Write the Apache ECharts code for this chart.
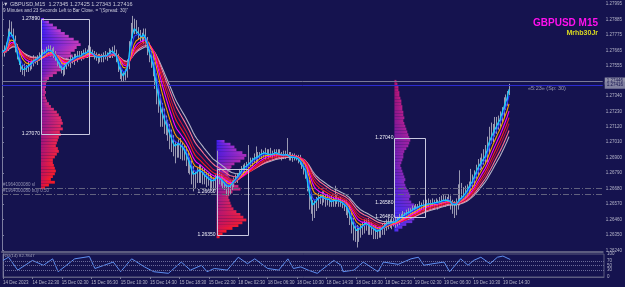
<!DOCTYPE html>
<html>
<head>
<meta charset="utf-8">
<script src="https://cdn.jsdelivr.net/npm/echarts@6/dist/echarts.min.js"></script>
<style>
html, body { margin: 0; padding: 0; background: #15134f; }
#main { width: 625px; height: 287px; }
</style>
</head>
<body>
<div id="main"></div>
<script>
// GBPUSD M15 closes, in pips above 1.26000, one per bar (14 Dec 18:30 -> 19 Dec 15:45)
const closes = [
  165, 167, 168, 176, 183, 179, 175, 169, 163, 158,
  154, 151, 154, 153, 156, 155, 158, 160, 159, 161,
  162, 163, 165, 164, 166, 168, 165, 166, 164, 161,
  158, 156, 153, 152, 155, 158, 157, 160, 159, 162,
  161, 163, 164, 162, 165, 164, 165, 167, 165, 164,
  163, 161, 160, 162, 161, 163, 162, 163, 165, 164,
  167, 165, 162, 157, 151, 149, 147, 150, 155, 165,
  177, 181, 184, 180, 178, 177, 175, 179, 174, 169,
  163, 160, 155, 147, 138, 131, 124, 120, 117, 113,
  110, 106, 103, 99, 97, 98, 101, 99, 97, 95,
  92, 88, 85, 80, 76, 78, 80, 82, 81, 79,
  77, 76, 75, 74, 73, 72, 75, 78, 76, 74,
  73, 71, 69, 68, 70, 72, 74, 75, 77, 79,
  81, 83, 82, 85, 86, 87, 88, 90, 89, 91,
  92, 93, 92, 94, 93, 92, 93, 92, 93, 94,
  93, 92, 91, 92, 93, 92, 91, 90, 91, 90,
  90, 89, 87, 85, 82, 80, 72, 63, 58, 54,
  57, 60, 62, 61, 63, 62, 60, 61, 60, 58,
  59, 60, 60, 59, 58, 58, 57, 55, 53, 49,
  44, 41, 39, 37, 39, 40, 42, 43, 44, 42,
  41, 40, 39, 38, 37, 38, 39, 40, 42, 43,
  44, 43, 44, 45, 44, 46, 47, 48, 49, 49,
  51, 50, 52, 53, 54, 53, 55, 56, 56, 57,
  56, 58, 57, 58, 57, 58, 58, 57, 59, 59,
  60, 59, 60, 61, 58, 56, 55, 57, 59, 61,
  62, 63, 65, 67, 70, 72, 74, 78, 81, 84,
  86, 88, 90, 92, 97, 103, 105, 108, 111, 113,
  116, 118, 123, 127, 131, 134.5, 141.6
];
// wick above / below the body of each bar, pips (base 36 digits)
const upWicks = [
  '2346543222', '2232322322', '3222322232', '2222332322', '2322232322',
  '2232223232', '2322222358', '9a54332332', '3333344553', '4443332322',
  '3323423332', '3334333h42', '3232322323', '3232d32383', '2323234232',
  '23232b2322', '2232232222', '3232332323', '3a42322323', '2323232323',
  '2323232323', '3232323232', '2323232323', '3232323234', '43232234ck',
  'a6543a4345', '456789a686', '4536431'
].join('');
const downWicks = [
  '2322334432', '3232232323', '2323223232', '3234322323', '2323233232',
  '3232332323', '3346553232', '3232443456', '5678a9c8a7', '8a98b78a97',
  '8979a86898', '6757565454', '5465433232', '3232323232', '2323232323',
  '3232323232', '2323456a89', '7564545453', '3434345667', '8a9b765657',
  '6576545454', '4343434343', '3434343434', '3434343434', '3434568643',
  '3434343434', '3434543434', '3434340'
].join('');

// RSI(14): bar index and value
const rsiBars = [0, 3, 8, 16, 22, 27, 30, 39, 47, 50, 60, 64, 70, 77, 82, 90, 97, 102, 108, 111,
  115, 122, 128, 133, 137, 144, 150, 155, 158, 162, 166, 171, 180, 184, 185, 191, 196, 204, 207,
  215, 222, 226, 229, 234, 240, 243, 249, 253, 256, 260, 265, 269, 272, 276];
const rsiValues = [72, 86, 30, 72, 51, 79, 23, 79, 89, 37, 65, 23, 79, 44, 23, 16, 65, 30, 51, 23,
  37, 30, 86, 58, 79, 37, 30, 79, 37, 44, 30, 16, 72, 51, 23, 30, 65, 23, 65,
  55, 79, 86, 51, 58, 65, 23, 79, 51, 72, 86, 58, 86, 91, 76];

// time labels, one every 16 bars
const timeLabels = ['14 Dec 2023', '14 Dec 22:30', '15 Dec 02:30', '15 Dec 06:30', '15 Dec 10:30',
  '15 Dec 14:30', '15 Dec 18:30', '15 Dec 22:30', '18 Dec 02:30', '18 Dec 06:30', '18 Dec 10:30',
  '18 Dec 14:30', '18 Dec 18:30', '18 Dec 22:30', '19 Dec 02:30', '19 Dec 06:30', '19 Dec 10:30',
  '19 Dec 14:30'];
const priceTicks = [1.26240, 1.26350, 1.26460, 1.26570, 1.26680, 1.26790, 1.26900, 1.27010,
  1.27120, 1.27230, 1.27340, 1.27555, 1.27665, 1.27775, 1.27885, 1.27995];
const rsiTicks = [0, 30, 50, 70, 100];

// moving averages, slow -> fast
const maPeriods = [24, 20, 16, 13, 10, 7, 4, 2];
const maColors = ['#b4b4c8', '#ff7090', '#c8103c', '#ff2020', '#ff00ff', '#ff9900', '#2436ff', '#14c8ff'];

// volume profiles, 2 pip rows from the top down
const profileLeft = [3, 8, 12, 16, 20, 24, 28, 33, 38, 40, 36, 34, 30, 32, 28, 30, 26, 24, 20, 16,
  12, 8, 6, 5, 5, 4, 5, 4, 5, 6, 8, 10, 13, 16, 18, 20, 21, 22, 20, 22, 19, 20, 18, 17, 16, 15,
  17, 18, 16, 14, 12, 12, 13, 14, 15, 14, 12, 10, 14, 8, 4];
const profileMid = [8, 14, 18, 20, 26, 30, 28, 24, 18, 15, 14, 12, 12, 13, 15, 18, 22, 24, 16, 13,
  12, 13, 14, 15, 17, 20, 24, 27, 30, 26, 22, 16, 10, 6, 3];
const profileRight = [2, 3, 4, 4, 5, 5, 6, 7, 7, 8, 8, 9, 9, 10, 9, 10, 11, 12, 13, 14, 15, 16, 15,
  14, 12, 10, 9, 9, 8, 7, 6, 7, 8, 9, 10, 11, 10, 11, 12, 14, 15, 16, 15, 17, 20, 24, 27, 25, 22,
  20, 18, 12, 8, 4];

// boxes: first bar, last bar, top price, bottom price
const boxes = [[21.2, 47.3, 1.27890, 1.27070], [116.8, 133.7, 1.26820, 1.26350], [213.6, 230.4, 1.27040, 1.26480]];
const boxLevels = [[21.2, 1.27890], [21.2, 1.27070], [116.8, 1.26660], [116.8, 1.26350],
  [213.6, 1.27040], [213.6, 1.26580], [213.6, 1.26480]];

const toPrice = p => +(1.26 + p / 10000).toFixed(6);

const barData = closes.map((c, i) => {
  const o = i ? closes[i - 1] : c - 1;
  const hi = Math.max(o, c) + parseInt(upWicks[i], 36);
  const lo = Math.min(o, c) - parseInt(downWicks[i], 36);
  return [i, toPrice(o), toPrice(c), toPrice(lo), toPrice(hi)];
});

function ema(period) {
  const k = 2 / (period + 1);
  let e = closes[0];
  return closes.map((c, i) => {
    e = i ? e + k * (c - e) : c;
    return [i, toPrice(e)];
  });
}

function hex(c) { return [1, 3, 5].map(k => parseInt(c.substr(k, 2), 16)); }
function mix(a, b, t) {
  const x = hex(a), y = hex(b);
  return 'rgb(' + x.map((v, k) => Math.round(v + (y[k] - v) * t)).join(',') + ')';
}

const profiles = [
  { bar: 21.2, top: 189.5, vols: profileLeft, tl: '#2a1cff', tr: '#c040d8', bl: '#d0104c', br: '#ff1a1a' },
  { bar: 116.8, top: 102.6, vols: profileMid, tl: '#3a1cf0', tr: '#9a30d8', bl: '#d8104a', br: '#ff1a1a' },
  { bar: 213.6, top: 145.4, vols: profileRight, tl: '#a0106a', tr: '#c81878', bl: '#3a2cff', br: '#6a30e0' }
];
const profileData = [];
profiles.forEach((p, pi) => {
  p.vols.forEach((v, k) => {
    profileData.push([p.bar, toPrice(p.top - k * 2), toPrice(p.top - (k + 1) * 2), v, k / (p.vols.length - 1), pi]);
  });
});

const FONT = 'Liberation Sans';
const AXIS_TEXT = '#b4b4c8';
const VOL_TO_BARS = 0.54;

const myChart = echarts.init(document.getElementById('main'));

const maSeries = maPeriods.map((p, k) => ({
  type: 'line',
  xAxisIndex: 0,
  yAxisIndex: 0,
  data: ema(p),
  showSymbol: false,
  silent: true,
  lineStyle: { color: maColors[k], width: k === maPeriods.length - 1 ? 1.3 : 1.1 },
  z: 4 + k
}));

maSeries[0].markLine = {
  symbol: ['none', 'none'],
  silent: true,
  animation: false,
  precision: 6,
  data: [
    { yAxis: 1.27446, lineStyle: { color: '#7a7a98', type: 'solid', width: 1 },
      label: { show: true, position: 'end', formatter: '1.27446', backgroundColor: '#9090a8', color: '#15134f', fontSize: 4.5, fontFamily: FONT, padding: [1, 2], distance: 2 } },
    { yAxis: 1.27416, lineStyle: { color: '#2c2cd0', type: 'solid', width: 1 },
      label: { show: true, position: 'end', formatter: '1.27416', backgroundColor: '#8080a0', color: '#15134f', fontSize: 4.5, fontFamily: FONT, padding: [1, 2], distance: 2 } },
    { yAxis: 1.26684, lineStyle: { color: '#62627f', type: [6, 2, 1, 2], width: 1 },
      label: { show: true, position: 'insideStartTop', formatter: '#1964000080 sl', color: '#9090b0', fontSize: 4.5, fontFamily: FONT, distance: [1, 1] } },
    { yAxis: 1.26642, lineStyle: { color: '#62627f', type: [6, 2, 1, 2], width: 1 },
      label: { show: true, position: 'insideStartTop', formatter: '#1964000080 buy 0.50', color: '#9090b0', fontSize: 4.5, fontFamily: FONT, distance: [1, 1] } }
  ]
};

const option = {
  backgroundColor: '#15134f',
  animation: false,
  grid: [
    { left: 2, right: 21, top: 2, bottom: 35 },
    { left: 2, right: 21, top: 254, bottom: 10, show: true, borderColor: '#5c5c80', borderWidth: 1 }
  ],
  xAxis: [
    { type: 'value', gridIndex: 0, min: 0, max: 327,
      axisLine: { show: true, lineStyle: { color: '#5c5c80', width: 2 } },
      axisTick: { show: false }, axisLabel: { show: false }, splitLine: { show: false } },
    { type: 'value', gridIndex: 1, min: 0, max: 327,
      axisLine: { show: true, lineStyle: { color: '#5c5c80' } },
      axisTick: { show: true, length: 2, lineStyle: { color: '#7a7a9a' }, customValues: timeLabels.map((t, k) => k * 16) },
      axisLabel: { color: AXIS_TEXT, fontSize: 4.5, fontFamily: FONT, margin: 3, align: 'left',
        customValues: timeLabels.map((t, k) => k * 16), formatter: v => timeLabels[Math.round(v / 16)] },
      splitLine: { show: false } }
  ],
  yAxis: [
    { type: 'value', gridIndex: 0, position: 'right', min: 1.26228, max: 1.28009, scale: true,
      axisLine: { show: true, lineStyle: { color: '#7c7ca0' } },
      axisTick: { show: true, length: 2, lineStyle: { color: '#7c7ca0' }, customValues: priceTicks },
      axisLabel: { color: AXIS_TEXT, fontSize: 4.5, fontFamily: FONT, margin: 3,
        customValues: priceTicks, formatter: v => v.toFixed(5) },
      splitLine: { show: false } },
    { type: 'value', gridIndex: 1, position: 'right', min: 0, max: 100,
      axisLine: { show: true, lineStyle: { color: '#7c7ca0' } },
      axisTick: { show: false },
      axisLabel: { color: AXIS_TEXT, fontSize: 4.5, fontFamily: FONT, margin: 3, customValues: rsiTicks },
      splitLine: { show: false } }
  ],
  graphic: [
    { type: 'text', left: 3, top: 1, style: { text: '\u25BC GBPUSD,M15  1.27345 1.27425 1.27343 1.27416', fill: '#c8c8d8', font: '5.5px ' + FONT } },
    { type: 'text', left: 3, top: 8.5, style: { text: '9 Minutes and 23 Seconds Left to Bar Close. = "(Spread: 30)"', fill: '#c8c8d8', font: '4.6px ' + FONT } },
    { type: 'text', right: 27, top: 18, style: { text: 'GBPUSD M15', fill: '#ff10ee', font: 'bold 10px ' + FONT } },
    { type: 'text', right: 27, top: 30, style: { text: 'Mrhb30Jr', fill: '#d8d820', font: 'bold 7px ' + FONT } },
    { type: 'text', left: 528, top: 85, style: { text: '\u00AB5:23\u00BB (Sp: 30)', fill: '#9a9ab4', font: '5.5px ' + FONT } },
    { type: 'text', left: 3, top: 254, style: { text: 'RSI(14) 82.7847', fill: '#a0a0b8', font: '4.3px ' + FONT } }
  ],
  series: [
    {
      type: 'custom',
      xAxisIndex: 0, yAxisIndex: 0,
      silent: true,
      z: 1,
      data: profileData,
      renderItem: (params, api) => {
        const a = api.value(0);
        const p0 = api.coord([a, api.value(1)]);
        const p1 = api.coord([a + api.value(3) * VOL_TO_BARS, api.value(2)]);
        const prof = profiles[api.value(5)];
        const t = api.value(4);
        return {
          type: 'rect',
          shape: { x: p0[0], y: p0[1], width: p1[0] - p0[0], height: p1[1] - p0[1] },
          style: { fill: new echarts.graphic.LinearGradient(0, 0, 1, 0, [
            { offset: 0, color: mix(prof.tl, prof.bl, t) },
            { offset: 1, color: mix(prof.tr, prof.br, t) }
          ]) }
        };
      }
    },
    {
      type: 'custom',
      xAxisIndex: 0, yAxisIndex: 0,
      silent: true,
      z: 2,
      data: barData,
      encode: { x: 0, y: [3, 4] },
      renderItem: (params, api) => {
        const i = api.value(0);
        const hi = api.coord([i, api.value(4)]);
        const lo = api.coord([i, api.value(3)]);
        const x = Math.round(hi[0]) + 0.5;
        return { type: 'line', shape: { x1: x, y1: hi[1], x2: x, y2: lo[1] }, style: { stroke: '#9a9ab2', lineWidth: 1 } };
      }
    },
    ...maSeries,
    {
      type: 'custom',
      xAxisIndex: 0, yAxisIndex: 0,
      silent: true,
      z: 20,
      data: boxes,
      renderItem: (params, api) => {
        const p0 = api.coord([api.value(0), api.value(2)]);
        const p1 = api.coord([api.value(1), api.value(3)]);
        return {
          type: 'rect',
          shape: { x: Math.round(p0[0]) + 0.5, y: Math.round(p0[1]) + 0.5, width: Math.round(p1[0] - p0[0]), height: Math.round(p1[1] - p0[1]) },
          style: { fill: null, stroke: '#c8c8e0', lineWidth: 1 }
        };
      }
    },
    {
      type: 'custom',
      xAxisIndex: 0, yAxisIndex: 0,
      silent: true,
      z: 21,
      data: boxLevels,
      renderItem: (params, api) => {
        const p = api.coord([api.value(0), api.value(1)]);
        return {
          type: 'text',
          x: p[0] - 1, y: p[1],
          style: { text: api.value(1).toFixed(5), fill: '#f0f0f8', font: '5px ' + FONT, align: 'right', verticalAlign: 'middle' }
        };
      }
    },
    {
      type: 'line',
      xAxisIndex: 1, yAxisIndex: 1,
      data: rsiBars.map((b, k) => [b, rsiValues[k]]),
      showSymbol: false,
      silent: true,
      lineStyle: { color: '#5f8ff0', width: 1 },
      markLine: {
        symbol: ['none', 'none'],
        silent: true,
        animation: false,
        label: { show: false },
        lineStyle: { color: '#6a6a98', type: 'dotted', width: 1 },
        data: [{ yAxis: 70 }, { yAxis: 50 }, { yAxis: 30 }]
      }
    }
  ]
};

myChart.setOption(option);
</script>
</body>
</html>
